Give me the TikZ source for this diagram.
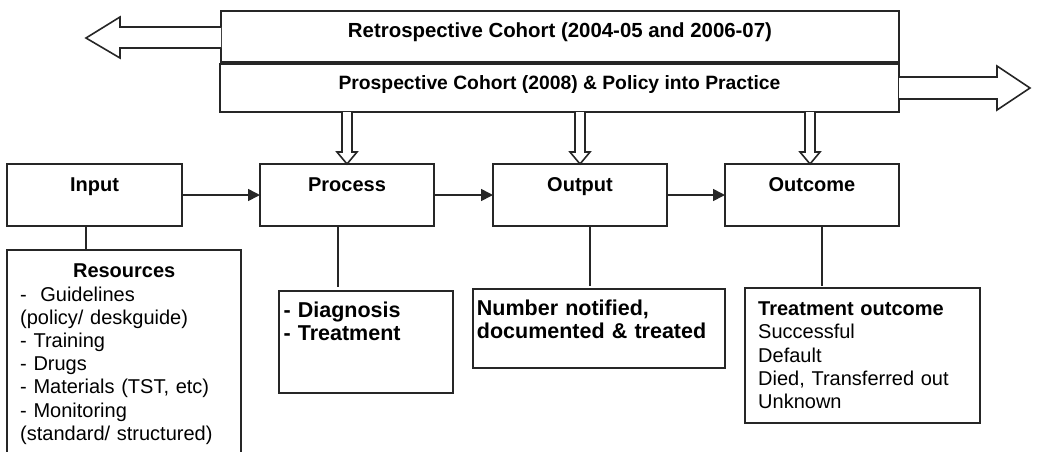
\documentclass[tikz,border=0pt]{standalone}
\usepackage{fontspec}
\setmainfont{Liberation Sans}
\usetikzlibrary{arrows.meta}
\begin{document}
\begin{tikzpicture}[x=1pt,y=-1pt,
  box/.style={draw=black!85, line width=1.6pt, inner sep=0pt, outer sep=0pt},
  blk/.style={draw=black!85, line width=1.6pt, fill=white, line join=miter},
  conn/.style={draw=black!85, line width=1.6pt},
  arr/.style={conn, -{Triangle[length=12pt,width=12pt]}},
  lbl/.style={anchor=base, inner sep=0pt, font=\fontsize{20}{24}\selectfont\bfseries},
  txt/.style={anchor=north west, inner sep=0pt, align=left, text width=#1, font=\fontsize{20}{23.2}\selectfont},
  txtb/.style={anchor=north west, inner sep=0pt, align=left, text width=#1, font=\fontsize{21.5}{23}\selectfont\bfseries}
]
\useasboundingbox (0,0) rectangle (1037,451);
\clip (0,0) rectangle (1037,451);

% top boxes
\node[box, minimum width=678pt, minimum height=51pt] (retro) at (560,36.5) {};
\node[box, minimum width=679pt, minimum height=48pt] (prosp) at (559.5,88) {};
\node[lbl, font=\fontsize{20.4}{24}\selectfont\bfseries] (retrot) at (560,37.7) {Retrospective Cohort (2004-05 and 2006-07)};
\node[lbl, font=\fontsize{19.3}{24}\selectfont\bfseries] (prospt) at (559.5,89.3) {Prospective Cohort (2008) \& Policy into Practice};

% block arrows left / right
\draw[blk] (retro.west) ++(0,-9.5) -- ++(-101,0) -- ++(0,-10) -- ++(-34,21) -- ++(34,20) -- ++(0,-10) -- ++(101,0);
\draw[blk] (prosp.east) ++(0,-11) -- ++(98,0) -- ++(0,-11) -- ++(33,22) -- ++(-33,22) -- ++(0,-11) -- ++(-98,0);

% row boxes
\node[box, minimum width=175pt, minimum height=62pt] (input) at (94.5,195) {};
\node[box, minimum width=174pt, minimum height=62pt] (process) at (347,195) {};
\node[box, minimum width=174pt, minimum height=62pt] (output) at (580,195) {};
\node[box, minimum width=174pt, minimum height=62pt] (outcome) at (812,195) {};
\node[lbl] (inputt) at (94.5,191) {Input};
\node[lbl] (processt) at (347,191) {Process};
\node[lbl] (outputt) at (580,191) {Output};
\node[lbl] (outcomet) at (812,191) {Outcome};

% down block arrows
\foreach \n/\dx in {process/0,output/0,outcome/-2}{
  \draw[blk] ([xshift=\dx pt]prosp.south -| \n.north) ++(-5,0) -- ++(0,40) -- ++(-5,0) -- ++(10,12) -- ++(10,-12) -- ++(-5,0) -- ++(0,-40);
}

% horizontal arrows
\draw[arr] (input.east) -- (process.west);
\draw[arr] (process.east) -- (output.west);
\draw[arr] (output.east) -- (outcome.west);

% detail boxes
\node[box, minimum width=234pt, minimum height=230pt] (resources) at (124,365) {};
\node[box, minimum width=174pt, minimum height=102pt] (diag) at (366,342) {};
\node[box, minimum width=252pt, minimum height=79pt] (numb) at (599,328.5) {};
\node[box, minimum width=235pt, minimum height=135pt] (outc) at (862.5,355.5) {};

% vertical connectors
\draw[conn] ([xshift=-8.5pt]input.south) -- ([xshift=-8.5pt]input.south |- resources.north);
\draw[conn, shorten >=4pt] ([xshift=-9pt]process.south) -- ([xshift=-9pt]process.south |- diag.north);
\draw[conn, shorten >=3pt] ([xshift=10pt]output.south) -- ([xshift=10pt]output.south |- numb.north);
\draw[conn, shorten >=2pt] ([xshift=10pt]outcome.south) -- ([xshift=10pt]outcome.south |- outc.north);

% texts
\node[txt=208pt] (rest) at (20,261.7) {\makebox[208pt]{\rule{0pt}{16pt}\bfseries Resources}\\
-\hspace{13.5pt}Guidelines\\
(policy/ deskguide)\\
- Training\\
- Drugs\\
- Materials (TST, etc)\\
- Monitoring\\
(standard/ structured)};
\node[txtb=168pt] (diagt) at (283.3,300.7) {\rule{0pt}{17pt}- Diagnosis\\- Treatment};
\node[txtb=246pt] (numbt) at (476.7,298.7) {\rule{0pt}{17pt}Number notified,\\documented \& treated};
\node[txt=220pt] (outct) at (758,299.5) {\rule{0pt}{16pt}\textbf{Treatment outcome}\\
Successful\\
Default\\
Died, Transferred out\\
Unknown};
\end{tikzpicture}
\end{document}
